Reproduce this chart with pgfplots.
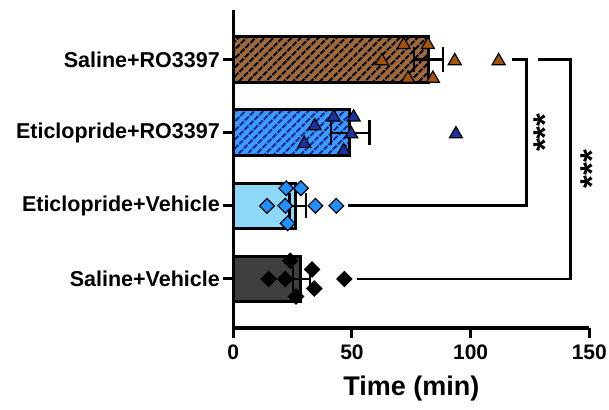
\documentclass[border=0pt]{standalone}
\usepackage{fontspec}
\setmainfont{Liberation Sans}
\usepackage{pgfplots}
\pgfplotsset{compat=1.18}
\usetikzlibrary{patterns.meta}
\definecolor{brownfill}{HTML}{9E6A3B}
\definecolor{browntri}{HTML}{A2540A}
\definecolor{bluefill}{HTML}{3D9BFF}
\definecolor{navy}{HTML}{122A8C}
\definecolor{navytri}{HTML}{1A33A0}
\definecolor{lightblue}{HTML}{8DD8F8}
\definecolor{diablue}{HTML}{1E90FF}
\definecolor{darkgray}{HTML}{3F3F3F}
\begin{document}
\begin{tikzpicture}
\useasboundingbox (0,0) rectangle (609pt,409pt);
\begin{axis}[
 at={(233.3pt,81pt)}, anchor=south west,
 scale only axis, width=356pt, height=318pt,
 xmin=0, xmax=150, ymin=-0.67, ymax=3.676,
 axis x line*=bottom, axis y line*=left,
 axis line style={line width=3pt, black},
 xtick={0,50,100,150},
 xticklabels={0,50,100,150},
 ytick={0,1,2,3},
 yticklabels={Saline+Vehicle, Eticlopride+Vehicle, Eticlopride+RO3397, Saline+RO3397},
 tick align=outside, major tick length=10pt,
 tick style={line width=3pt, black},
 xticklabel style={font=\bfseries\fontsize{21}{25}\selectfont, yshift=-3pt},
 yticklabel style={font=\bfseries\fontsize{21.5}{25}\selectfont},
 /pgf/number format/assume math mode=true,
 xlabel={Time (min)},
 xlabel style={font=\bfseries\fontsize{27}{32}\selectfont, yshift=-10pt},
 clip=false,
 unbounded coords=jump,
]
% bars
\addplot[xbar, bar width=0.62, bar shift=0pt, fill=darkgray, draw=black, line width=3pt] coordinates {(28.5,0)};
\addplot[xbar, bar width=0.62, bar shift=0pt, fill=lightblue, draw=black, line width=3pt] coordinates {(26.1,1)};
\addplot[xbar, bar width=0.62, bar shift=0pt, fill=bluefill, draw=black, line width=3pt,
  postaction={pattern color=navy, pattern={Lines[angle=45,distance=6.4pt,line width=2.4pt]}}] coordinates {(49.0,2)};
\addplot[xbar, bar width=0.62, bar shift=0pt, fill=brownfill, draw=black, line width=3pt,
  postaction={pattern color=black, pattern={Lines[angle=45,distance=6.4pt,line width=2.4pt]}}] coordinates {(82.2,3)};
% points
\addplot[only marks, mark=square*, mark size=5.4pt, mark options={rotate=45, fill=black, draw=black, line width=1pt}] coordinates {
 (24,0.25) (33.2,0.13) (14.9,0) (21.9,0) (46.8,0) (34.1,-0.13) (26.4,-0.24)};
\addplot[only marks, mark=square*, mark size=5.2pt, mark options={rotate=45, fill=diablue, draw=black, line width=1.2pt}] coordinates {
 (22.3,1.24) (28.5,1.24) (14.2,1) (21.9,1) (34.6,1) (43.4,1) (22.9,0.76)};
\addplot[only marks, mark=triangle*, mark size=7.5pt, mark options={fill=navytri, draw=black, line width=1.2pt}] coordinates {
 (42.3,2.21) (50.7,2.21) (34.3,2.09) (49.7,1.98) (93.8,1.98) (29.9,1.85) (46.5,1.75)};
\addplot[only marks, mark=triangle*, mark size=7.5pt, mark options={fill=browntri, draw=black, line width=1.2pt}] coordinates {
 (71.8,3.2) (82.0,3.2) (62.6,2.98) (93.3,2.98) (111.8,2.98) (73.6,2.74) (84.1,2.74)};
% error bars (mean +- SEM)
\addplot[black, line width=2.2pt] coordinates {
 (25,0) (32.4,0) (nan,nan) (25,-0.17) (25,0.17) (nan,nan) (32.4,-0.17) (32.4,0.17) (nan,nan)
 (23.7,1) (30.5,1) (nan,nan) (23.7,0.83) (23.7,1.17) (nan,nan) (30.5,0.83) (30.5,1.17) (nan,nan)
 (41.3,2) (57.4,2) (nan,nan) (41.3,1.83) (41.3,2.17) (nan,nan) (57.4,1.83) (57.4,2.17) (nan,nan)
 (76,3) (88.5,3) (nan,nan) (76,2.83) (76,3.17) (nan,nan) (88.5,2.83) (88.5,3.17)};
% significance brackets
\addplot[black, line width=2.7pt] coordinates {(117.6,3) (123.4,3) (123.4,1) (48.5,1)};
\addplot[black, line width=2.7pt] coordinates {(128.2,3) (142.2,3) (142.2,0) (52.1,0)};
\node[rotate=90, font=\bfseries\fontsize{33}{38}\selectfont, inner sep=0pt] at (axis cs:131.6,2) {***};
\node[rotate=90, font=\bfseries\fontsize{33}{38}\selectfont, inner sep=0pt] at (axis cs:151.0,1.5) {***};
\end{axis}
\end{tikzpicture}
\end{document}
